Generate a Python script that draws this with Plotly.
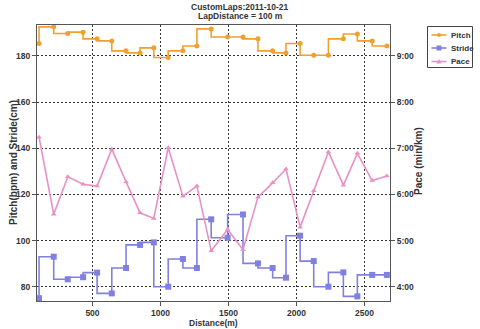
import plotly.graph_objects as go

# Lap data: cumulative distance (m), cadence, stride length and pace (min/km)
distance_m = [107, 215, 318, 431, 534, 642, 747, 850, 951, 1057, 1165, 1268, 1373,
              1494, 1607, 1717, 1825, 1923, 2027, 2127, 2235, 2345, 2448, 2557, 2665]
pitch_bpm = [185.4, 192.6, 189.7, 190.3, 187.4, 186.5, 182.2, 181.3, 183.5, 179.3,
             182.2, 184.3, 191.7, 188.2, 188.2, 187.4, 182.2, 181.3, 185.4, 180.3,
             180.3, 187.4, 189.5, 186.5, 184.3]
stride_cm = [75.0, 93.0, 83.2, 84.1, 86.1, 77.1, 88.1, 98.1, 99.2, 80.0, 92.0, 88.1,
             109.2, 101.2, 111.3, 90.1, 88.1, 83.9, 102.1, 91.1, 80.0, 86.2, 75.8,
             85.1, 85.1]
pace_min_km = [7.24, 5.57, 6.38, 6.22, 6.18, 6.98, 6.27, 5.60, 5.48, 7.01, 5.96, 6.18,
               4.78, 5.24, 4.80, 5.94, 6.25, 6.55, 5.29, 6.08, 6.92, 6.20, 6.89, 6.30,
               6.40]

series_names = ["Pitch", "Stride", "Pace"]
left_ticks = [80, 100, 120, 140, 160, 180]
pace_ticks = [4, 5, 6, 7, 8, 9]
pace_tick_text = ["4:00", "5:00", "6:00", "7:00", "8:00", "9:00"]
x_ticks = [500, 1000, 1500, 2000, 2500]

ORANGE = "#F0A030"
BLUE = "#8080E0"
PINK = "#E890C8"
TXT = "#333333"
FONT = "Arial"

W, H = 480, 329
ML, MR, MT, MB = 37, 90, 25, 28
PW, PH = W - ML - MR, H - MT - MB


def px(x):
    """Horizontal pixel -> paper fraction."""
    return (x - ML) / PW


def py(y):
    """Vertical pixel (from top) -> paper fraction."""
    return (H - MB - y) / PH


fig = go.Figure()
fig.add_trace(go.Scatter(
    x=distance_m, y=pitch_bpm, name=series_names[0], mode="lines+markers",
    line=dict(color=ORANGE, width=1.6, shape="vh"),
    marker=dict(symbol="circle", size=5, color=ORANGE)))
fig.add_trace(go.Scatter(
    x=distance_m, y=stride_cm, name=series_names[1], mode="lines+markers",
    line=dict(color=BLUE, width=1.6, shape="vh"),
    marker=dict(symbol="square", size=6, color=BLUE)))
fig.add_trace(go.Scatter(
    x=distance_m, y=pace_min_km, name=series_names[2], mode="lines+markers", yaxis="y2",
    line=dict(color=PINK, width=1.6),
    marker=dict(symbol="triangle-up", size=5, color=PINK)))

tick_font = dict(family=FONT, size=8.5, color=TXT, weight="bold")
axis_common = dict(showline=True, linecolor="#555555", linewidth=1,
                   ticks="outside", ticklen=4, tickcolor="#555555",
                   tickfont=tick_font, zeroline=False)
grid = dict(showgrid=True, gridcolor="#333333", griddash="2px,2px", gridwidth=1)

title_font = dict(family=FONT, size=8.5, color=TXT)
vert_font = dict(family=FONT, size=10, color=TXT)
legend_font = dict(family=FONT, size=8, color=TXT)

# title lines are centred on the page, expressed in pixels then converted
annotations = [
    dict(text="<b>CustomLaps:2011-10-21</b>", x=px(240), y=py(6.5), font=title_font),
    dict(text="<b>LapDistance = 100 m</b>", x=px(240), y=py(16.5), font=title_font),
    dict(text="<b>Pitch(bpm) and Stride(cm)</b>", x=px(13), y=py(163), textangle=-90,
         font=vert_font),
    dict(text="<b>Pace (min/km)</b>", x=px(418), y=py(161), textangle=-90,
         font=vert_font),
    dict(text="<b>Distance(m)</b>", x=px(213), y=py(323), font=title_font),
]
for a in annotations:
    a.update(xref="paper", yref="paper", xanchor="center", yanchor="middle",
             showarrow=False)

# Legend box drawn in pixel space beside the plot
shapes = [dict(type="rect", xref="paper", yref="paper",
               x0=px(427.5), x1=px(472.5), y0=py(26.5), y1=py(67.5),
               line=dict(color="#444444", width=1), fillcolor="white")]
legend_rows = [35, 48, 61.5]
legend_colors = [ORANGE, BLUE, PINK]
for name, color, row in zip(series_names, legend_colors, legend_rows):
    shapes.append(dict(type="line", xref="paper", yref="paper",
                       x0=px(431.5), x1=px(446.5), y0=py(row), y1=py(row),
                       line=dict(color=color, width=1.6)))
    cx, cy = 439, row
    if name == "Pitch":
        shapes.append(dict(type="circle", xref="paper", yref="paper",
                           x0=px(cx - 2), x1=px(cx + 2), y0=py(cy + 2), y1=py(cy - 2),
                           fillcolor=color, line=dict(color=color, width=0)))
    elif name == "Stride":
        shapes.append(dict(type="rect", xref="paper", yref="paper",
                           x0=px(cx - 2.5), x1=px(cx + 2.5), y0=py(cy + 2.5),
                           y1=py(cy - 2.5), fillcolor=color,
                           line=dict(color=color, width=0)))
    else:
        shapes.append(dict(type="path", xref="paper", yref="paper",
                           path="M {:.5f} {:.5f} L {:.5f} {:.5f} L {:.5f} {:.5f} Z".format(
                               px(cx - 2.5), py(cy + 2), px(cx + 2.5), py(cy + 2),
                               px(cx), py(cy - 2.5)),
                           fillcolor=color, line=dict(color=color, width=0)))
    annotations.append(dict(text="<b>" + name + "</b>", x=px(449), y=py(row),
                            xref="paper", yref="paper", xanchor="left",
                            yanchor="middle", showarrow=False, font=legend_font))

fig.update_layout(
    width=W, height=H,
    margin=dict(l=ML, r=MR, t=MT, b=MB),
    paper_bgcolor="white", plot_bgcolor="white",
    showlegend=False,
    xaxis=dict(range=[92, 2688], tickvals=x_ticks, mirror=True, **grid, **axis_common),
    yaxis=dict(range=[73.8, 193.4], tickvals=left_ticks, mirror=True, **grid,
               **axis_common),
    yaxis2=dict(range=[3.69, 9.67], tickvals=pace_ticks, ticktext=pace_tick_text,
                overlaying="y", side="right", showgrid=False, **axis_common),
    annotations=annotations,
    shapes=shapes,
)

fig.write_html("out.html")
